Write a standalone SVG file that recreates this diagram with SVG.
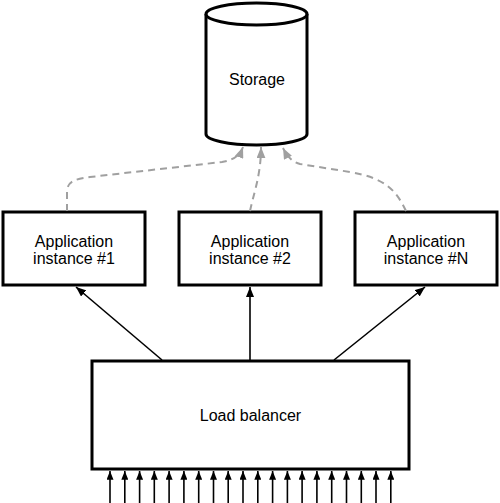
<svg xmlns="http://www.w3.org/2000/svg" width="500" height="503" viewBox="0 0 500 503">
<defs>
<marker id="ah" viewBox="0 0 10 8" refX="10" refY="4" markerWidth="10" markerHeight="8" markerUnits="userSpaceOnUse" orient="auto"><path d="M0,0 L10,4 L0,8 Z" fill="#000"/></marker>
<marker id="ahs" viewBox="0 0 10 8" refX="10" refY="4" markerWidth="9" markerHeight="7" markerUnits="userSpaceOnUse" orient="auto"><path d="M0,0 L10,4 L0,8 Z" fill="#000"/></marker>
<marker id="ag" viewBox="0 0 10 8" refX="10" refY="4" markerWidth="11" markerHeight="9" markerUnits="userSpaceOnUse" orient="auto"><path d="M0,0 L10,4 L0,8 Z" fill="#a0a0a0"/></marker>
</defs>
<style>
.box{fill:#fff;stroke:#000;stroke-width:3}
.t{font-family:"Liberation Sans",Arial,sans-serif;font-size:16px;fill:#000;text-anchor:middle}
.solid{fill:none;stroke:#000;stroke-width:1.6;marker-end:url(#ah)}
.in{fill:none;stroke:#000;stroke-width:1.6;marker-end:url(#ahs)}
.dash{fill:none;stroke:#a0a0a0;stroke-width:2;stroke-dasharray:7 5;marker-end:url(#ag)}
</style>
<rect width="500" height="503" fill="#fff"/>
<g id="storage">
<path class="box" d="M206,14 L206,134 A50.5,11 0 0 0 307,134 L307,14"/>
<ellipse class="box" cx="256.5" cy="14" rx="50.5" ry="11"/>
<text class="t" x="257" y="85">Storage</text>
</g>
<g id="app1">
<rect class="box" x="3" y="212" width="142" height="73"/>
<text class="t" x="74" y="247">Application</text>
<text class="t" x="74" y="264">instance #1</text>
</g>
<g id="app2">
<rect class="box" x="179" y="212" width="142" height="73"/>
<text class="t" x="250" y="247">Application</text>
<text class="t" x="250" y="264">instance #2</text>
</g>
<g id="app3">
<rect class="box" x="355" y="212" width="142" height="73"/>
<text class="t" x="426" y="247">Application</text>
<text class="t" x="426" y="264">instance #N</text>
</g>
<g id="lb">
<rect class="box" x="92" y="361" width="317" height="108"/>
<text class="t" x="250.5" y="421">Load balancer</text>
</g>
<g id="connectors">
<path class="dash" d="M67,211 L67,192 C67,182 74,179 90,177 L222,162 C234,160 240,155 243,147"/>
<path class="dash" d="M250,211 C254,192 261,175 261,147"/>
<path class="dash" d="M406,211 C396,190 385,178 350,172 L300,164 C292,162 287,156 283,148"/>
<path class="solid" d="M162,360 L76,287"/>
<path class="solid" d="M250,360 L250,287"/>
<path class="solid" d="M334,360 L425,287"/>
<path class="in" d="M110,503 V471"/>
<path class="in" d="M124.8,503 V471"/>
<path class="in" d="M139.6,503 V471"/>
<path class="in" d="M154.3,503 V471"/>
<path class="in" d="M169.1,503 V471"/>
<path class="in" d="M183.9,503 V471"/>
<path class="in" d="M198.7,503 V471"/>
<path class="in" d="M213.5,503 V471"/>
<path class="in" d="M228.2,503 V471"/>
<path class="in" d="M243,503 V471"/>
<path class="in" d="M257.8,503 V471"/>
<path class="in" d="M272.6,503 V471"/>
<path class="in" d="M287.4,503 V471"/>
<path class="in" d="M302.1,503 V471"/>
<path class="in" d="M316.9,503 V471"/>
<path class="in" d="M331.7,503 V471"/>
<path class="in" d="M346.5,503 V471"/>
<path class="in" d="M361.3,503 V471"/>
<path class="in" d="M376,503 V471"/>
<path class="in" d="M390.8,503 V471"/>
</g>
</svg>
